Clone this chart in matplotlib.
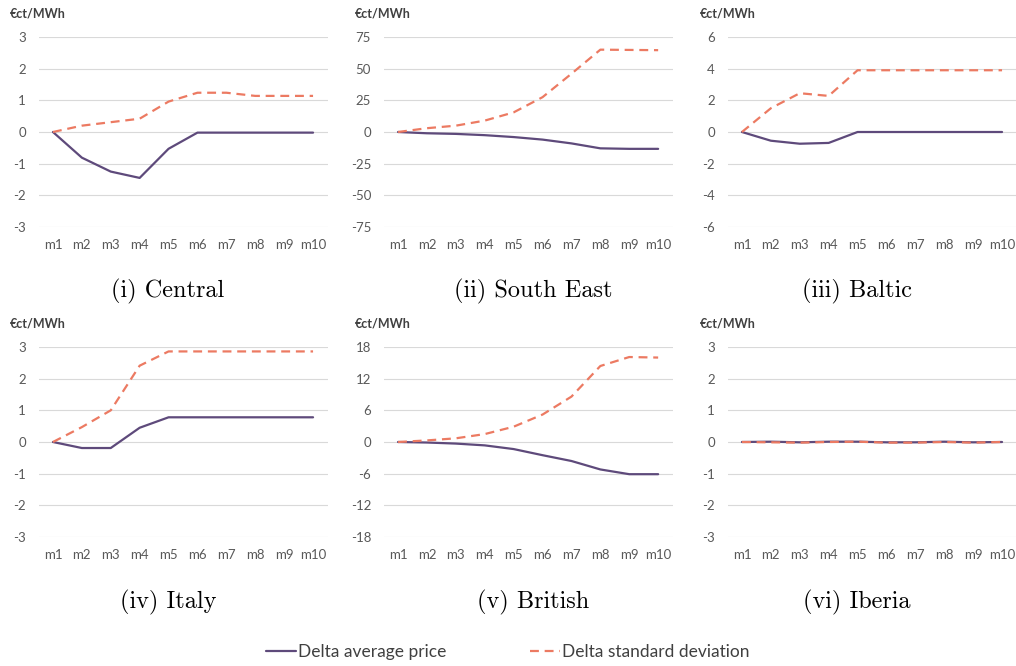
import matplotlib
matplotlib.use("Agg")
import matplotlib.pyplot as plt

months = ["m1", "m2", "m3", "m4", "m5", "m6", "m7", "m8", "m9", "m10"]

central_avg = [0, -0.81, -1.25, -1.45, -0.53, -0.02, -0.02, -0.02, -0.02, -0.02]
central_std = [0, 0.2, 0.31, 0.42, 0.96, 1.24, 1.24, 1.14, 1.14, 1.14]

southeast_avg = [0, -1.0, -1.5, -2.5, -4.0, -6.0, -9.0, -12.9, -13.3, -13.3]
southeast_std = [0, 3.0, 5.0, 9.0, 15.5, 27.5, 46.0, 65.0, 64.8, 64.6]

baltic_avg = [0, -0.55, -0.74, -0.69, 0, 0, 0, 0, 0, 0]
baltic_std = [0, 1.5, 2.45, 2.28, 3.9, 3.9, 3.9, 3.9, 3.9, 3.9]

italy_avg = [0, -0.19, -0.19, 0.45, 0.78, 0.78, 0.78, 0.78, 0.78, 0.78]
italy_std = [0, 0.47, 1.0, 2.41, 2.86, 2.86, 2.86, 2.86, 2.86, 2.86]

british_avg = [0, -0.1, -0.3, -0.64, -1.34, -2.5, -3.6, -5.2, -6.1, -6.1]
british_std = [0, 0.3, 0.7, 1.5, 2.9, 5.2, 8.6, 14.4, 16.1, 16.0]

iberia_avg = [0, 0.01, -0.01, 0.01, 0.01, -0.01, -0.01, 0.01, -0.01, 0]
iberia_std = [0, -0.01, -0.02, 0, 0.01, -0.02, -0.02, 0, -0.02, 0]

captions = ["(i) Central", "(ii) South East", "(iii) Baltic",
            "(iv) Italy", "(v) British", "(vi) Iberia"]
ymax = [3, 75, 6, 3, 18, 3]
ystep = [1, 25, 2, 1, 6, 1]
avg_series = [central_avg, southeast_avg, baltic_avg, italy_avg, british_avg, iberia_avg]
std_series = [central_std, southeast_std, baltic_std, italy_std, british_std, iberia_std]

purple = "#5E4A7B"
orange = "#EC7A62"
tick_col = "#595959"
font = "Lato"

W, H = 1016, 666
fig = plt.figure(figsize=(W / 100, H / 100), dpi=100)

# pixel layout of the panels (left of plot area, top gridline)
lefts = [38.5, 383.6, 727.5]
tops = [37, 347]
caption_x = [168, 533, 857]
caption_y = [291, 602]
unit_x = [10, 355, 700]
plot_w = 289
plot_h = 190

lines = []
for i in range(6):
    r, c = divmod(i, 3)
    ax = fig.add_axes([lefts[c] / W, 1 - (tops[r] + plot_h) / H, plot_w / W, plot_h / H])
    x = list(range(len(months)))
    l1, = ax.plot(x, avg_series[i], color=purple, lw=1.6, solid_capstyle="round",
                  label="Delta average price", zorder=3)
    l2, = ax.plot(x, std_series[i], color=orange, lw=1.6, linestyle=(0, (4, 2.6)),
                  label="Delta standard deviation", zorder=4)
    if i == 0:
        lines = [l1, l2]
    m = ymax[i]
    ax.set_ylim(-m, m)
    ax.set_xlim(-0.5, len(months) - 0.5)
    ticks = list(range(-m, m + 1, ystep[i]))
    ax.set_yticks(ticks)
    ax.set_yticklabels([str(t) for t in ticks])
    ax.set_xticks(x)
    ax.set_xticklabels(months)
    ax.grid(axis="y", color="#D9D9D9", lw=0.8)
    ax.set_axisbelow(True)
    for s in ax.spines.values():
        s.set_visible(False)
    ax.tick_params(axis="y", length=0, pad=9, labelcolor=tick_col, labelsize=9.5)
    ax.tick_params(axis="x", length=0, pad=8.5, labelcolor=tick_col, labelsize=9.5)
    for lab in ax.get_xticklabels() + ax.get_yticklabels():
        lab.set_fontfamily(font)

    fig.text(unit_x[c] / W, 1 - (tops[r] - 24) / H, "€ct/MWh", fontsize=9,
             fontweight="bold", color="#404040", family=font, ha="left", va="center")
    fig.text(caption_x[c] / W, 1 - caption_y[r] / H, captions[i], fontsize=17.5,
             family="cmr10", ha="center", va="center")

fig.legend(lines, [l.get_label() for l in lines], loc="center",
           bbox_to_anchor=(0.5, 1 - 652 / H), ncol=2, frameon=False,
           handlelength=1.7, handletextpad=0.15, columnspacing=4.8,
           prop={"family": font, "size": 12.5})
for t in fig.legends[0].get_texts():
    t.set_color("#404040")

fig.savefig("out.png", dpi=100)
